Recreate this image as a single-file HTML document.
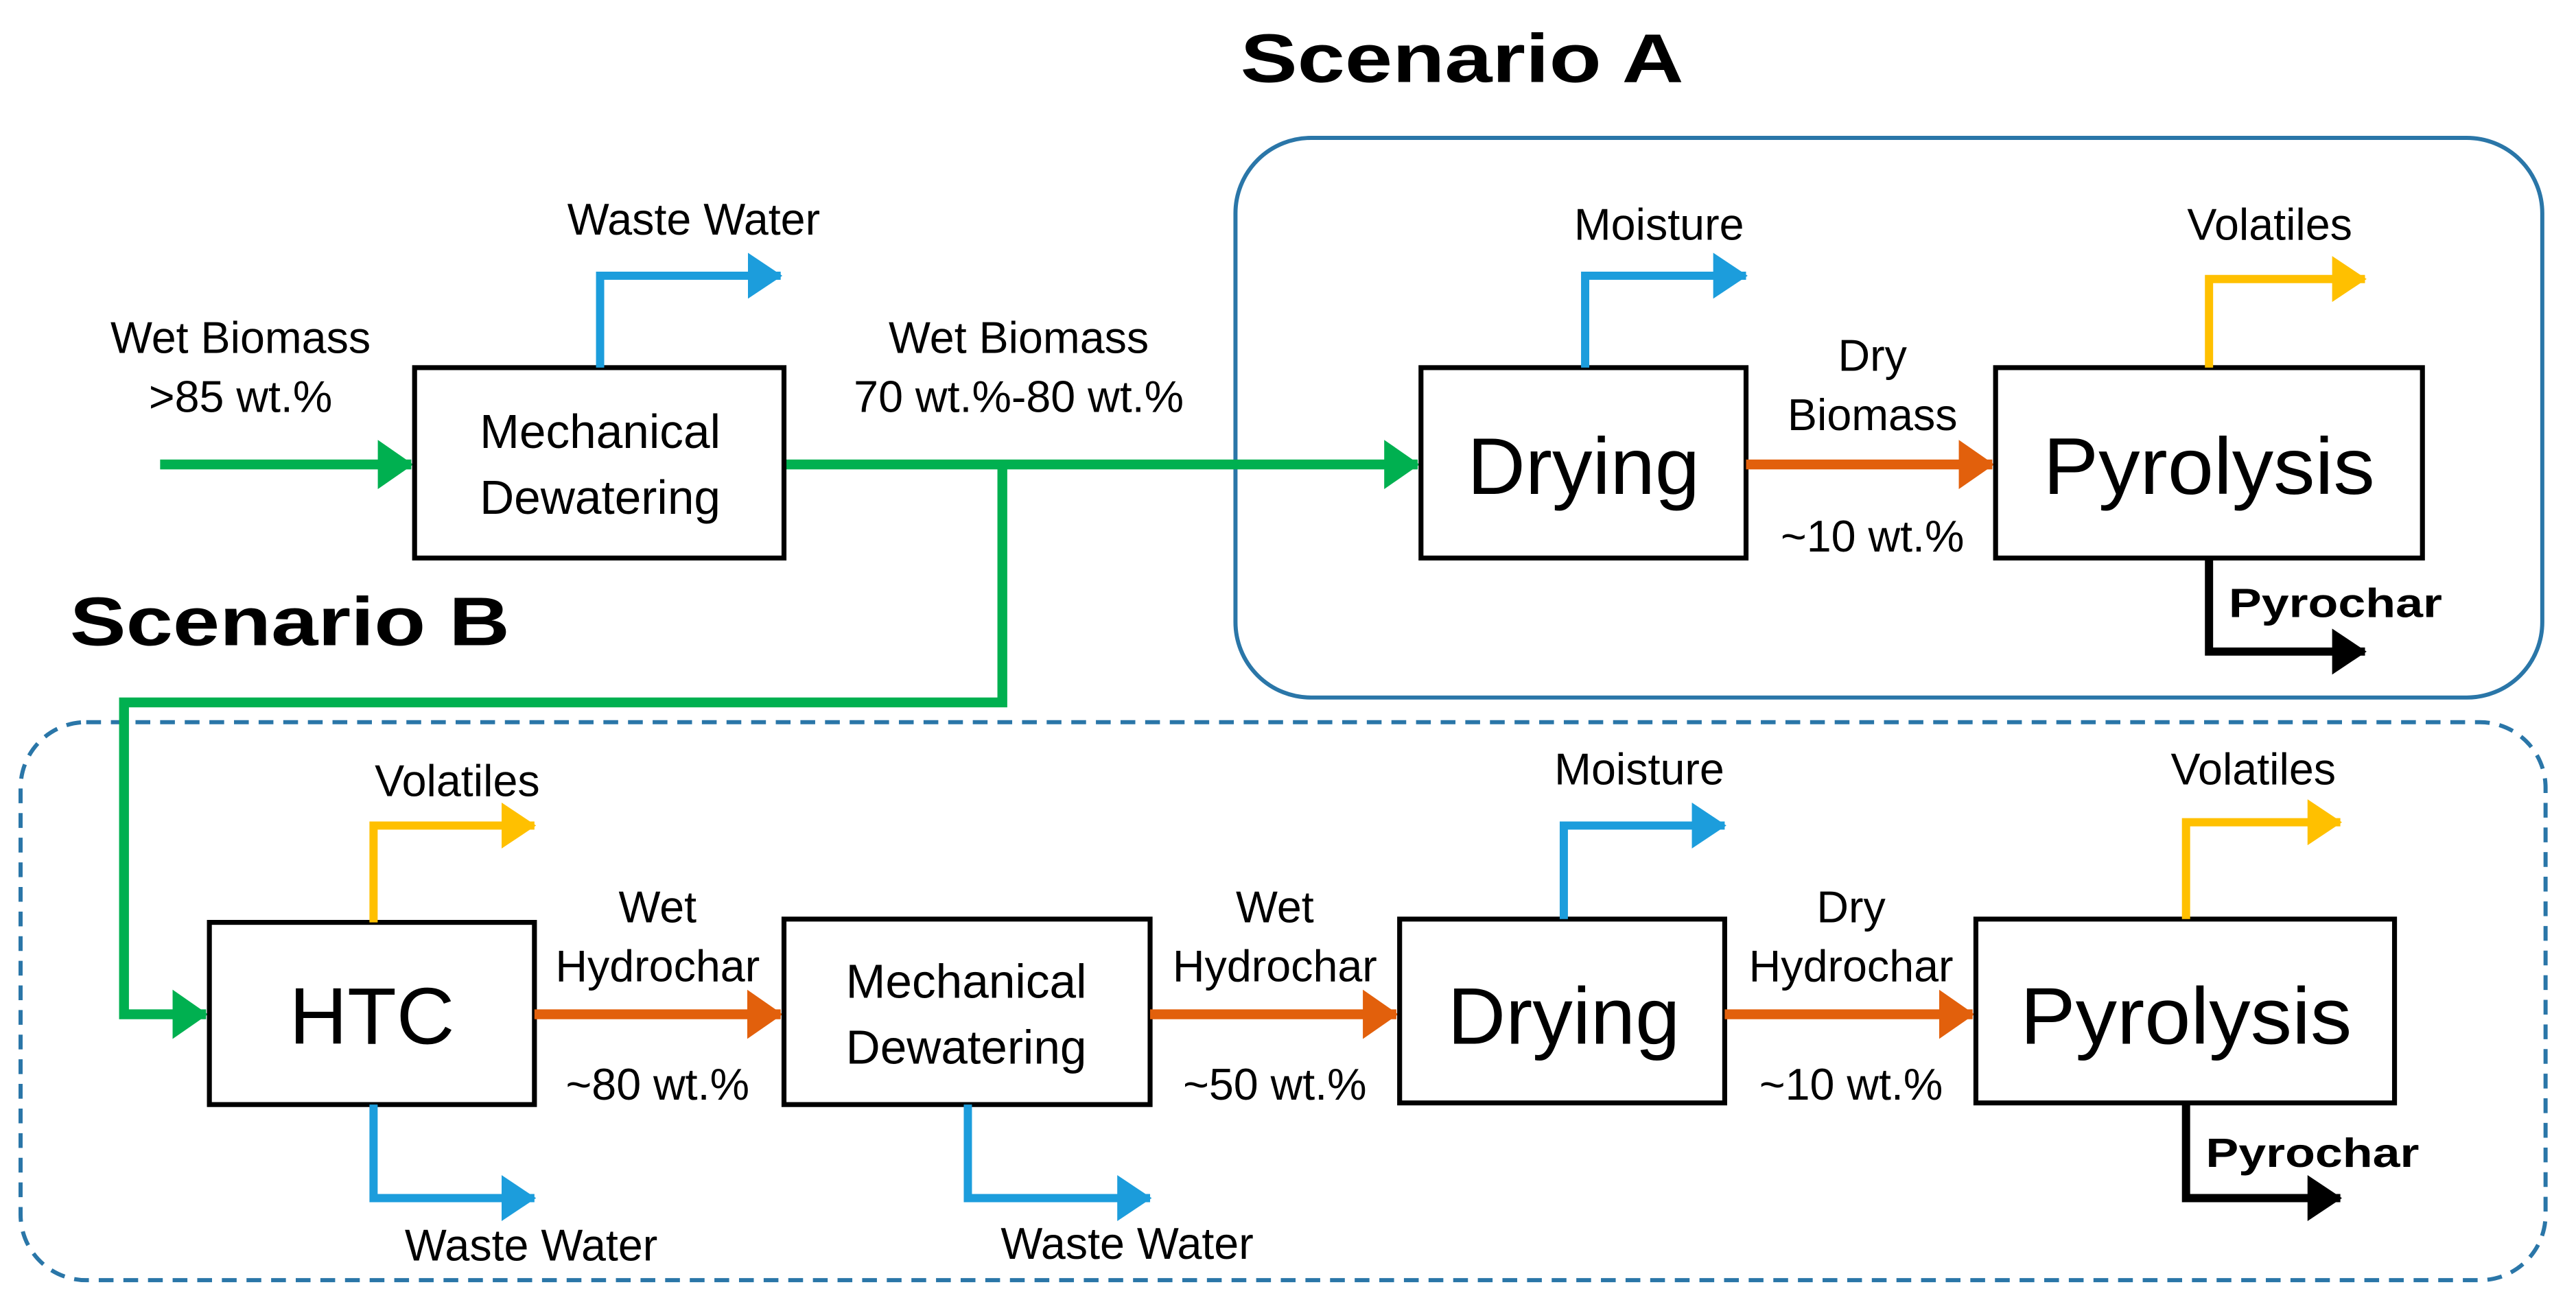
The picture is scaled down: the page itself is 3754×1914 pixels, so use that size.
<!DOCTYPE html>
<html><head><meta charset="utf-8"><style>
html,body{margin:0;padding:0;background:#fff;}
svg{display:block;}
text{font-family:"Liberation Sans",Arial,sans-serif;fill:#000;}
.t{font-size:27px;text-anchor:middle;}
.big{font-size:49px;text-anchor:middle;}
.mid{font-size:29px;text-anchor:middle;}
.h{font-size:42px;font-weight:bold;}
.pc{font-size:25px;font-weight:bold;}
</style></head><body>
<svg width="3754" height="1914" viewBox="0 0 1568 800" xmlns="http://www.w3.org/2000/svg">
<defs>
<marker id="ag" markerWidth="4" markerHeight="5" refX="3.4" refY="2.5" orient="auto" markerUnits="strokeWidth"><path d="M0,0 L3.6,2.5 L0,5z" fill="#00b050"/></marker>
<marker id="ao" markerWidth="4" markerHeight="5" refX="3.4" refY="2.5" orient="auto" markerUnits="strokeWidth"><path d="M0,0 L3.6,2.5 L0,5z" fill="#e2600c"/></marker>
<marker id="ab" markerWidth="4.6" markerHeight="5.6" refX="4" refY="2.8" orient="auto" markerUnits="strokeWidth"><path d="M0,0 L4.2,2.8 L0,5.6z" fill="#1c9ddc"/></marker>
<marker id="ay" markerWidth="4.6" markerHeight="5.6" refX="4" refY="2.8" orient="auto" markerUnits="strokeWidth"><path d="M0,0 L4.2,2.8 L0,5.6z" fill="#ffc000"/></marker>
<marker id="ak" markerWidth="4.6" markerHeight="5.6" refX="4" refY="2.8" orient="auto" markerUnits="strokeWidth"><path d="M0,0 L4.2,2.8 L0,5.6z" fill="#000"/></marker>
</defs>

<rect x="752" y="84" width="796" height="341" rx="46" fill="none" stroke="#2a76a8" stroke-width="2.5"/>
<rect x="12" y="440" width="1538" height="340" rx="40" fill="none" stroke="#2a76a8" stroke-width="2.5" stroke-dasharray="9,6"/>
<text class="h" x="755" y="50" textLength="270" lengthAdjust="spacingAndGlyphs">Scenario A</text>
<text class="h" x="42" y="393" textLength="268" lengthAdjust="spacingAndGlyphs">Scenario B</text>

<line x1="97" y1="283" x2="250" y2="283" stroke="#00b050" stroke-width="6" marker-end="url(#ag)"/>
<line x1="477" y1="283" x2="863" y2="283" stroke="#00b050" stroke-width="6" marker-end="url(#ag)"/>
<polyline points="610,283 610,428 75,428 75,618 125,618" fill="none" stroke="#00b050" stroke-width="6" marker-end="url(#ag)"/>

<text class="t" x="146" y="215">Wet Biomass</text>
<text class="t" x="146" y="251">&gt;85 wt.%</text>
<text class="t" x="620" y="215">Wet Biomass</text>
<text class="t" x="620" y="251">70 wt.%-80 wt.%</text>
<rect x="252" y="224" width="225" height="116" fill="#fff" stroke="#000" stroke-width="3"/>
<text class="mid" x="365" y="273">Mechanical</text>
<text class="mid" x="365" y="313">Dewatering</text>
<polyline points="365,224 365,168 475,168" fill="none" stroke="#1c9ddc" stroke-width="5" marker-end="url(#ab)"/>
<text class="t" x="422" y="143">Waste Water</text>

<rect x="865" y="224" width="198" height="116" fill="#fff" stroke="#000" stroke-width="3"/>
<text class="big" x="964" y="301">Drying</text>
<polyline points="965,224 965,168 1063,168" fill="none" stroke="#1c9ddc" stroke-width="5" marker-end="url(#ab)"/>
<text class="t" x="1010" y="146">Moisture</text>
<line x1="1063" y1="283" x2="1213" y2="283" stroke="#e2600c" stroke-width="6" marker-end="url(#ao)"/>
<text class="t" x="1140" y="226">Dry</text>
<text class="t" x="1140" y="262">Biomass</text>
<text class="t" x="1140" y="336">~10 wt.%</text>
<rect x="1215" y="224" width="260" height="116" fill="#fff" stroke="#000" stroke-width="3"/>
<text class="big" x="1345" y="301" textLength="202" lengthAdjust="spacingAndGlyphs">Pyrolysis</text>
<polyline points="1345,224 1345,170 1440,170" fill="none" stroke="#ffc000" stroke-width="5" marker-end="url(#ay)"/>
<text class="t" x="1382" y="146">Volatiles</text>
<polyline points="1345,340 1345,397 1440,397" fill="none" stroke="#000" stroke-width="5" marker-end="url(#ak)"/>
<text class="pc" x="1357" y="376" textLength="130" lengthAdjust="spacingAndGlyphs">Pyrochar</text>

<rect x="127" y="562" width="198" height="111" fill="#fff" stroke="#000" stroke-width="3"/>
<text class="big" x="226" y="636">HTC</text>
<polyline points="227,562 227,503 325,503" fill="none" stroke="#ffc000" stroke-width="5" marker-end="url(#ay)"/>
<text class="t" x="278" y="485">Volatiles</text>
<polyline points="227,673 227,730 325,730" fill="none" stroke="#1c9ddc" stroke-width="5" marker-end="url(#ab)"/>
<text class="t" x="323" y="768">Waste Water</text>
<line x1="325" y1="618" x2="475" y2="618" stroke="#e2600c" stroke-width="6" marker-end="url(#ao)"/>
<text class="t" x="400" y="562">Wet</text>
<text class="t" x="400" y="598">Hydrochar</text>
<text class="t" x="400" y="670">~80 wt.%</text>

<rect x="477" y="560" width="223" height="113" fill="#fff" stroke="#000" stroke-width="3"/>
<text class="mid" x="588" y="608">Mechanical</text>
<text class="mid" x="588" y="648">Dewatering</text>
<polyline points="589,673 589,730 700,730" fill="none" stroke="#1c9ddc" stroke-width="5" marker-end="url(#ab)"/>
<text class="t" x="686" y="767">Waste Water</text>
<line x1="700" y1="618" x2="850" y2="618" stroke="#e2600c" stroke-width="6" marker-end="url(#ao)"/>
<text class="t" x="776" y="562">Wet</text>
<text class="t" x="776" y="598">Hydrochar</text>
<text class="t" x="776" y="670">~50 wt.%</text>

<rect x="852" y="560" width="198" height="112" fill="#fff" stroke="#000" stroke-width="3"/>
<text class="big" x="952" y="636">Drying</text>
<polyline points="952,560 952,503 1050,503" fill="none" stroke="#1c9ddc" stroke-width="5" marker-end="url(#ab)"/>
<text class="t" x="998" y="478">Moisture</text>
<line x1="1050" y1="618" x2="1201" y2="618" stroke="#e2600c" stroke-width="6" marker-end="url(#ao)"/>
<text class="t" x="1127" y="562">Dry</text>
<text class="t" x="1127" y="598">Hydrochar</text>
<text class="t" x="1127" y="670">~10 wt.%</text>

<rect x="1203" y="560" width="255" height="112" fill="#fff" stroke="#000" stroke-width="3"/>
<text class="big" x="1331" y="636" textLength="202" lengthAdjust="spacingAndGlyphs">Pyrolysis</text>
<polyline points="1331,560 1331,501 1425,501" fill="none" stroke="#ffc000" stroke-width="5" marker-end="url(#ay)"/>
<text class="t" x="1372" y="478">Volatiles</text>
<polyline points="1331,672 1331,730 1425,730" fill="none" stroke="#000" stroke-width="5" marker-end="url(#ak)"/>
<text class="pc" x="1343" y="711" textLength="130" lengthAdjust="spacingAndGlyphs">Pyrochar</text>
</svg>
</body></html>
